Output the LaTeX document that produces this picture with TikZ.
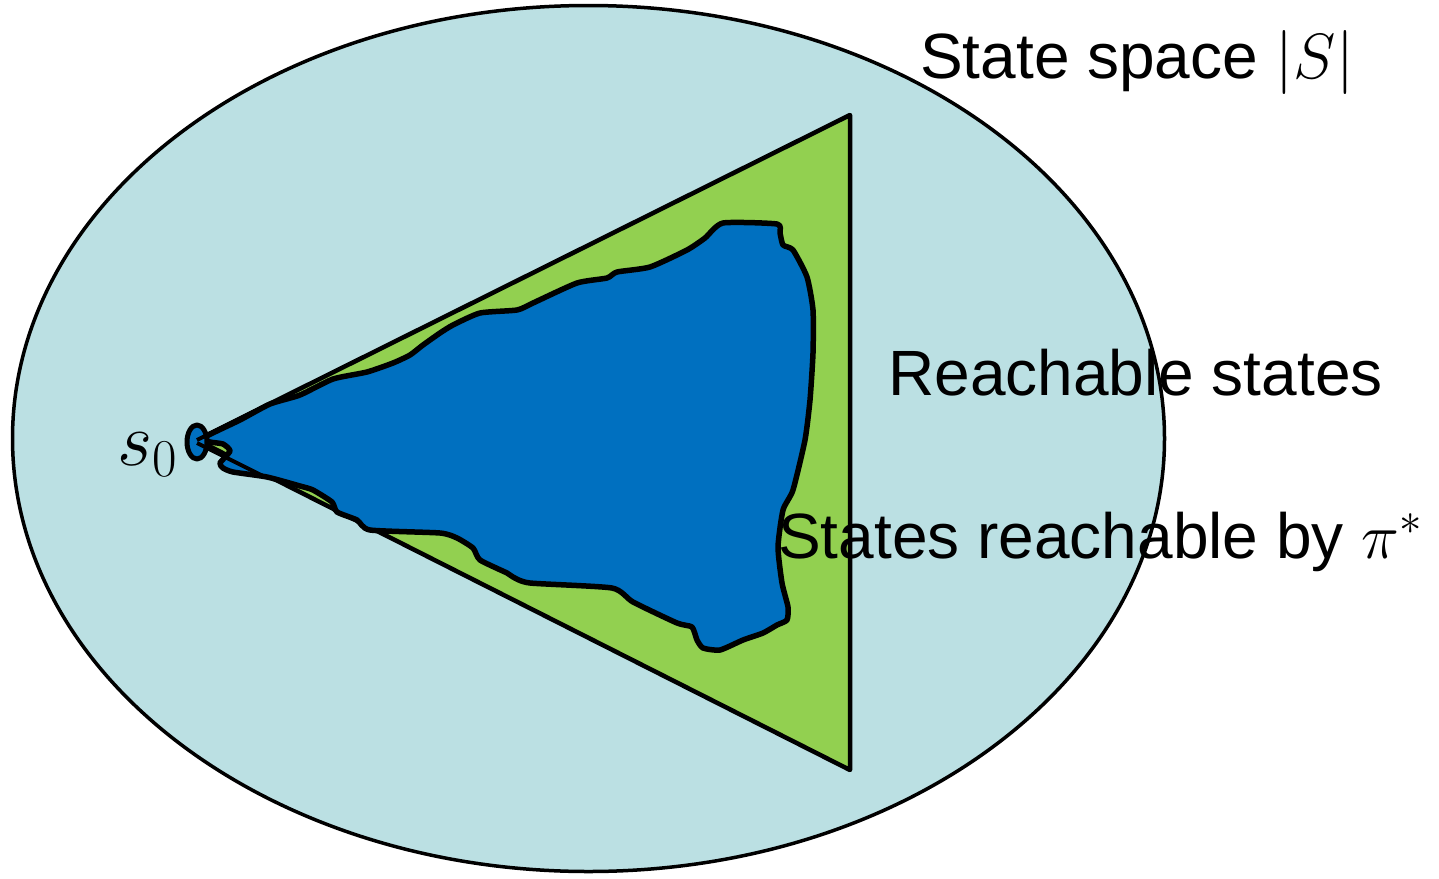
\RequirePackage{fix-cm}
\documentclass[tikz,border=0pt]{standalone}
\usepackage{fontspec}
\setmainfont{Liberation Sans}
\definecolor{bgblue}{HTML}{BBE0E3}
\definecolor{reachgreen}{HTML}{92D050}
\definecolor{piblue}{HTML}{0070C0}
\tikzset{
  lbl/.style={anchor=base west, inner sep=0pt, font=\fontsize{64}{77}\selectfont},
  outline/.style={draw=black, line join=round},
}
\begin{document}
\begin{tikzpicture}[x=1pt,y=-1pt]
\useasboundingbox (0,0) rectangle (1439,878);
% state space
\draw[outline, fill=bgblue, line width=3.5pt] (588.5,438.5) ellipse [x radius=576, y radius=433];
% reachable states
\draw[outline, fill=reachgreen, line width=4.5pt] (197,440) -- (850,115) -- (850,770) -- cycle;
% states reachable by pi*
\draw[outline, fill=piblue, line width=5.5pt] plot[smooth cycle, tension=0.35] coordinates {
(203,438) (240,420) (270,404) (300,395) (333,379) (367,372) (393,363) (410,355) (423,345)
(440,333) (453,325) (480,313) (517,310) (533,303) (577,283) (607,278) (617,272) (650,267)
(687,250) (705,238) (723,223) (777,224) (780,233) (783,245) (793,250) (807,277) (813,310)
(813,353) (810,400) (805,440) (793,490) (783,510) (778,547) (782,583) (788,607) (787,620)
(777,625) (763,633) (743,640) (720,650) (703,648) (697,640) (692,627) (677,623) (633,602)
(612,588) (530,583) (513,577) (507,573) (480,560) (473,548) (457,538) (440,533) (370,530)
(357,520) (337,512) (332,502) (313,490) (300,486) (267,477) (233,472) (223,468) (220,463)
(230,451) (223,444) (210,442)};
% s0
\draw[outline, fill=piblue, line width=5pt] (197,442) ellipse [x radius=10, y radius=17];
\draw[line width=4pt] (197,440) -- (265,406);
\draw[line width=4pt] (197,443) -- (265,477);
% labels
\node[lbl] (ss) at (920,78) {State space $|S|$};
\node[lbl] (rs) at (888,395) {Reachable states};
\node[lbl] (rp) at (778,558) {States reachable by $\pi^*$};
\node[anchor=base east, inner sep=0pt, font=\fontsize{76}{90}\selectfont] (s0) at (178,465) {$s_0$};
\end{tikzpicture}
\end{document}
